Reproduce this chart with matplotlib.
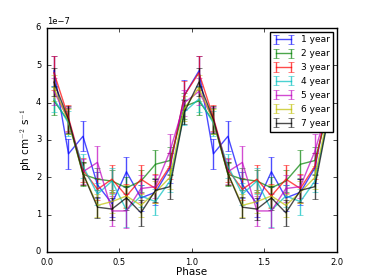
import matplotlib
matplotlib.use("Agg")
import matplotlib.pyplot as plt
import numpy as np

plt.style.use('classic')

phase_bins = [0.05, 0.15, 0.25, 0.35, 0.45, 0.55, 0.65, 0.75, 0.85, 0.95]
labels = ["1 year", "2 year", "3 year", "4 year", "5 year", "6 year", "7 year"]
colors = ["b", "g", "r", "c", "m", "y", "k"]

# flux per phase bin (units of 1e-7 ph cm^-2 s^-1), one cycle
flux = {
    "1 year": [4.85, 2.63, 3.10, 1.80, 1.30, 2.15, 1.45, 1.60, 2.25, 4.20],
    "2 year": [4.05, 3.50, 2.08, 1.95, 1.90, 1.72, 1.90, 2.35, 2.45, 3.90],
    "3 year": [4.80, 3.60, 2.20, 1.68, 1.95, 1.50, 1.95, 1.70, 2.30, 4.20],
    "4 year": [4.10, 3.45, 2.30, 1.55, 1.90, 1.12, 1.50, 1.35, 1.90, 3.75],
    "5 year": [4.30, 3.55, 2.15, 2.40, 1.10, 1.10, 1.70, 1.75, 2.70, 4.00],
    "6 year": [4.40, 3.50, 2.10, 1.25, 1.35, 1.50, 1.25, 1.60, 2.00, 3.85],
    "7 year": [4.55, 3.55, 2.10, 1.20, 1.15, 1.45, 1.05, 1.65, 1.75, 3.75],
}
err = {
    "1 year": [0.40, 0.40, 0.40, 0.35, 0.35, 0.40, 0.35, 0.35, 0.40, 0.40],
    "2 year": [0.37, 0.35, 0.30, 0.30, 0.30, 0.30, 0.30, 0.38, 0.35, 0.35],
    "3 year": [0.45, 0.35, 0.33, 0.30, 0.38, 0.33, 0.38, 0.38, 0.35, 0.37],
    "4 year": [0.35, 0.33, 0.33, 0.30, 0.35, 0.45, 0.30, 0.35, 0.30, 0.35],
    "5 year": [0.35, 0.33, 0.33, 0.45, 0.40, 0.45, 0.35, 0.30, 0.45, 0.35],
    "6 year": [0.35, 0.33, 0.30, 0.30, 0.30, 0.30, 0.30, 0.30, 0.30, 0.33],
    "7 year": [0.38, 0.35, 0.30, 0.28, 0.30, 0.33, 0.35, 0.30, 0.32, 0.33],
}

fig = plt.figure(figsize=(3.74, 2.8), dpi=100)
ax = fig.add_axes([0.125, 0.1, 0.775, 0.8])

x = np.array(phase_bins + [p + 1 for p in phase_bins])
for lab, c in zip(labels, colors):
    y = np.array(flux[lab] + flux[lab]) * 1e-7
    e = np.array(err[lab] + err[lab]) * 1e-7
    ax.errorbar(x, y, yerr=e, color=c, label=lab, lw=1, elinewidth=1,
                capsize=2, alpha=0.7)

ax.set_xlim(0, 2)
ax.set_ylim(0, 6e-7)
ax.set_xticks([0, 0.5, 1.0, 1.5, 2.0])
ax.tick_params(labelsize=6, length=3)
ax.yaxis.get_offset_text().set_fontsize(6)
ax.set_xlabel("Phase", fontsize=7.5, labelpad=0)
ax.set_ylabel(r"ph cm$^{-2}$ s$^{-1}$", fontsize=7.5, labelpad=1)
leg = ax.legend(loc="upper right", fontsize=6.5, numpoints=2,
                handlelength=2.2, borderaxespad=0.4, labelspacing=0.55)
fig.savefig("out.png", dpi=100)
